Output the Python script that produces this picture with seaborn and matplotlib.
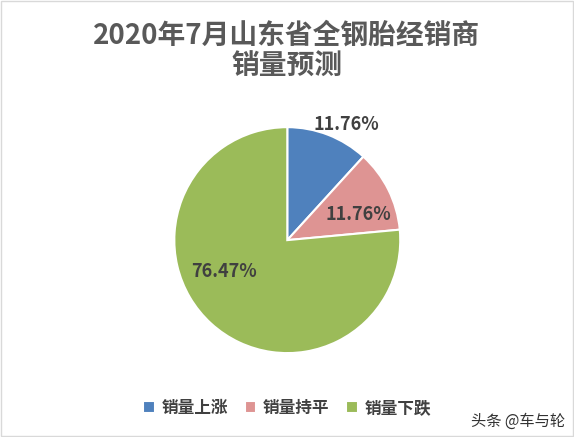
import matplotlib.pyplot as plt
import seaborn as sns
from matplotlib.patches import Rectangle

sns.set_theme(style="white")
plt.rcParams['font.family'] = ['Noto Sans CJK SC', 'DejaVu Sans']

categories = ["销量上涨", "销量持平", "销量下跌"]
values = [11.76, 11.76, 76.47]
colors = ["#4F81BD", "#DE9493", "#9BBB59"]

fig = plt.figure(figsize=(5.74, 4.37), dpi=100)
ax = fig.add_axes([0.3035, 0.192, 0.394, 0.517])

wedges, texts = ax.pie(values, colors=colors, startangle=90, counterclock=False,
                       wedgeprops=dict(edgecolor="white", linewidth=1.5))
ax.set_xlim(-1, 1)
ax.set_ylim(-1, 1)
ax.set_aspect("equal")
ax.axis("off")

label_pos = [(0.52, 1.02), (0.63, 0.23), (-0.56, -0.28)]
for v, (x, y) in zip(values, label_pos):
    ax.text(x, y, f"{v:.2f}%", ha="center", va="center", fontsize=13,
            fontweight="bold", color="#404040", clip_on=False)

fig.text(0.5, 0.883, "2020年7月山东省全钢胎经销商\n销量预测", ha="center", va="center",
         fontsize=20, fontweight="bold", color="#595959", linespacing=1.15)

fig.legend(wedges, categories, loc="center", bbox_to_anchor=(0.5, 0.066), ncol=3,
           frameon=False, fontsize=12, handlelength=0.7, handleheight=0.7,
           columnspacing=1.0, handletextpad=0.4, labelcolor="#404040",
           prop=dict(weight="bold", size=12))

fig.text(0.985, 0.035, "头条 @车与轮", ha="right", va="center", fontsize=11, color="#333333")
fig.patches.append(Rectangle((0.002, 0.002), 0.996, 0.996, transform=fig.transFigure,
                             fill=False, edgecolor="#D9D9D9", linewidth=1))

fig.savefig("out.png", dpi=100)
